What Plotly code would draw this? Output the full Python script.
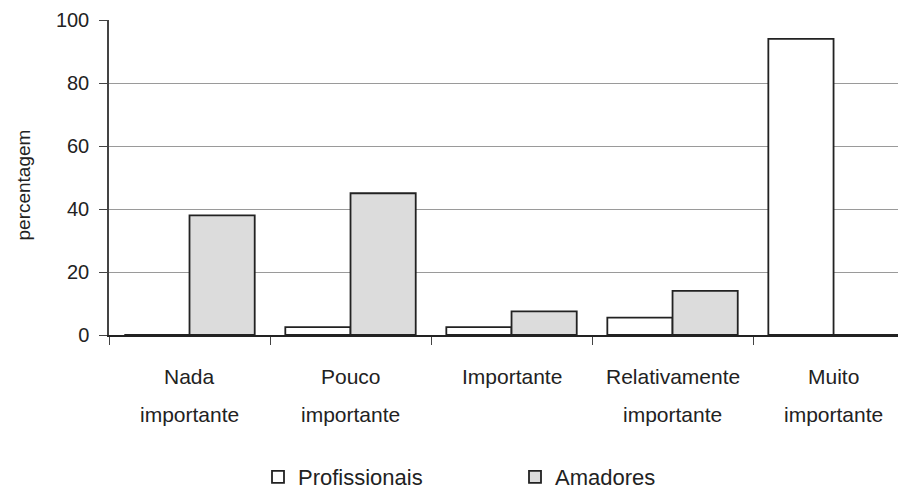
import plotly.graph_objects as go

categories = ["Nada importante", "Pouco importante", "Importante",
              "Relativamente importante", "Muito importante"]
label_line1 = ["Nada", "Pouco", "Importante", "Relativamente", "Muito"]
label_line2 = ["importante", "importante", "", "importante", "importante"]
profissionais = [0, 2.5, 2.5, 5.5, 94]
amadores = [38, 45, 7.5, 14, 0]
y_ticks = [0, 20, 40, 60, 80, 100]

FONT = "Liberation Sans, Arial, sans-serif"
# the page body adds an 8px margin, so the figure is 8px smaller
W, H = 898, 484
TXT = "#222222"

fig = go.Figure()
fig.add_trace(go.Bar(
    name="Profissionais", x=categories, y=profissionais,
    marker=dict(color="#ffffff", line=dict(color="#222222", width=1.8)),
))
fig.add_trace(go.Bar(
    name="Amadores", x=categories, y=amadores,
    marker=dict(color="#dcdcdc", line=dict(color="#222222", width=1.8)),
))

# two-line category labels
for i, (a, b) in enumerate(zip(label_line1, label_line2)):
    fig.add_annotation(x=categories[i], xref="x", yref="paper", y=0,
                       yanchor="middle", yshift=-41, text=a, showarrow=False,
                       font=dict(family=FONT, size=21, color=TXT))
    if b:
        fig.add_annotation(x=categories[i], xref="x", yref="paper", y=0,
                           yanchor="middle", yshift=-79, text=b,
                           showarrow=False,
                           font=dict(family=FONT, size=21, color=TXT))

# y-axis title
fig.add_annotation(x=0, xref="paper", y=0.5, yref="paper", xshift=-86,
                   yshift=-8, xanchor="center", yanchor="middle",
                   text="percentagem", textangle=-90, showarrow=False,
                   font=dict(family=FONT, size=19, color=TXT))

fig.update_layout(
    width=W, height=H,
    margin=dict(l=101, r=0, t=12, b=157, autoexpand=False),
    paper_bgcolor="white", plot_bgcolor="white",
    barmode="group", bargap=0.19, bargroupgap=0,
    font=dict(family=FONT, size=20, color=TXT),
    showlegend=True,
    legend=dict(orientation="h", xref="container", yref="container",
                x=250 / W, xanchor="left", y=1 - 469 / H, yanchor="middle",
                entrywidth=212, entrywidthmode="pixels",
                font=dict(family=FONT, size=22, color=TXT),
                bgcolor="rgba(0,0,0,0)"),
    xaxis=dict(type="category", range=[-0.5, 4.45], automargin=False,
               showticklabels=False, ticks="outside", tickson="boundaries",
               ticklen=8, tickcolor="#444444",
               showline=True, linecolor="#222222", linewidth=1.5,
               showgrid=False, zeroline=False),
    yaxis=dict(range=[0, 100], tickvals=y_ticks, ticks="outside", ticklen=8,
               automargin=False, ticklabelstandoff=6,
               tickcolor="#444444", tickfont=dict(size=20, color=TXT),
               showline=True, linecolor="#444444", linewidth=1.5,
               showgrid=True, gridcolor="#9a9a9a", gridwidth=1,
               zeroline=False),
)

fig.write_html("out.html")
